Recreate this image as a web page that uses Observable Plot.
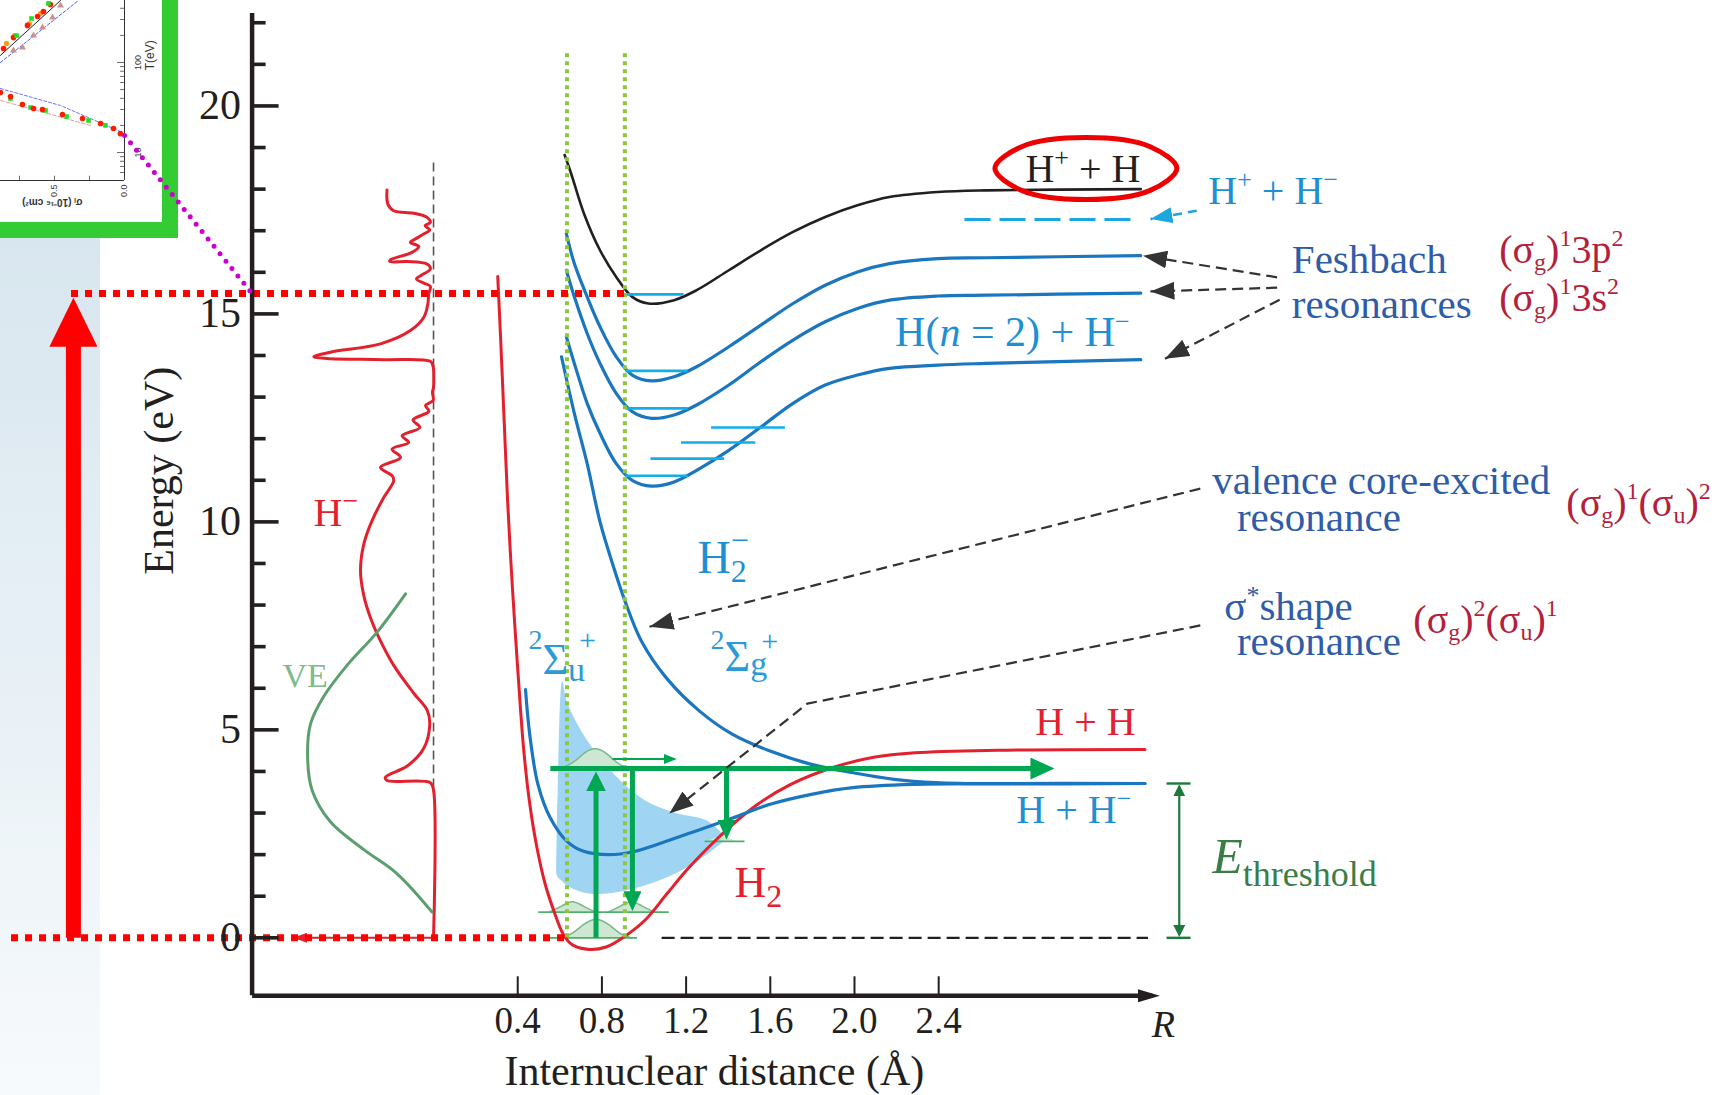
<!DOCTYPE html>
<html><head><meta charset="utf-8">
<script src="https://cdn.jsdelivr.net/npm/d3@7"></script>
<script src="https://cdn.jsdelivr.net/npm/@observablehq/plot@0.6"></script>
<style>
body{margin:0;background:#fff;}
#wrap{position:relative;width:1715px;height:1095px;overflow:hidden;background:#fff;}
#shade{position:absolute;left:0;top:238px;width:100px;height:857px;background:linear-gradient(to bottom,#d8e6ef 0%,#e6eff5 45%,#f7fafc 100%);}
#inset{position:absolute;left:0;top:0;width:162px;height:222px;border-right:16px solid #33cc33;border-bottom:16px solid #33cc33;background:#fff;overflow:hidden;}
#main{position:absolute;left:0;top:0;}
</style></head><body>
<div id="wrap"><div id="shade"></div><div id="inset"></div><div id="main"></div></div>
<script>
// ================= DATA (R in Å, E in eV) =================
// H2 ground state
const h2R = [0.305,0.318,0.335,0.352,0.368,0.385,0.405,0.427,0.455,0.49,0.53,0.575,0.615,0.66,0.742,0.82,0.91,1.008,1.106,1.205,1.303,1.402,1.540,1.697,1.894,2.091,2.288,2.681,3.380];
const h2E = [15.9,14.5,12.5,10.5,9.0,7.6,6.1,4.6,3.3,2.2,1.3,0.6,0.1,-0.17,-0.28,-0.22,0.04,0.44,1.04,1.64,2.16,2.64,3.21,3.69,4.09,4.34,4.45,4.51,4.53];
// H2- 2Σu+ (shape resonance)
const sigU_R = [0.437,0.457,0.496,0.555,0.634,0.713,0.831,0.949,1.106,1.264,1.421,1.599,1.795,1.992,2.288,2.681,3.38];
const sigU_E = [5.97,4.89,3.69,2.88,2.32,2.08,2.0,2.07,2.32,2.60,2.88,3.21,3.45,3.61,3.69,3.71,3.71];
// H2- 2Σg+ (valence core-excited)
const sigG_R = [0.608,0.669,0.730,0.791,0.85,0.910,0.988,1.106,1.264,1.421,1.599,1.795,1.992,2.189,2.386,2.681,3.38];
const sigG_E = [13.97,12.61,11.40,10.0,9.0,8.09,7.13,6.25,5.45,4.89,4.49,4.17,3.97,3.81,3.73,3.70,3.71];
// H2+ (H+ + H) black
const ionR = [0.623,0.654,0.715,0.791,0.868,0.944,1.021,1.143,1.250,1.403,1.555,1.708,1.861,2.014,2.166,2.396,2.625,3.36];
const ionE = [18.82,18.37,17.41,16.53,15.89,15.41,15.25,15.33,15.57,16.05,16.53,16.97,17.33,17.61,17.81,17.93,17.97,18.0];
// Feshbach resonance curves
const feshR = [0.631,0.669,0.730,0.791,0.868,0.944,1.036,1.143,1.250,1.403,1.555,1.708,1.861,2.014,2.166,2.396,2.625,3.36];
const fesh1E = [16.93,16.21,15.41,14.69,13.97,13.53,13.39,13.49,13.73,14.21,14.73,15.25,15.69,16.01,16.21,16.33,16.35,16.40];
const fesh2E = [16.05,15.41,14.53,13.81,13.09,12.65,12.49,12.57,12.81,13.29,13.85,14.37,14.81,15.13,15.33,15.43,15.45,15.50];
const fesh3E = [14.45,13.81,12.85,12.13,11.40,11.00,10.86,10.96,11.24,11.72,12.28,12.85,13.29,13.53,13.69,13.77,13.81,13.90];
// vibrational levels (R start, R end, E)
const vibR1 = [0.909,0.914,0.914,0.914,1.033,1.178,1.321];
const vibR2 = [1.19,1.21,1.21,1.21,1.383,1.531,1.672];
const vibE  = [15.47,13.63,12.73,11.11,11.52,11.91,12.27];
// H- yield spectrum (horizontal signal plotted to the left of R = 0)
const hmS = [-0.221,-0.217,-0.189,-0.094,-0.031,-0.015,-0.040,-0.018,-0.047,-0.087,-0.110,-0.070,-0.102,-0.205,-0.208,-0.125,-0.031,-0.015,-0.054,-0.081,-0.046,-0.015,-0.023,-0.027,-0.046,-0.110,-0.252,-0.490,-0.569,-0.506,-0.236,-0.015,-0.003,0.0,-0.005,-0.002,-0.038,-0.022,-0.097,-0.065,-0.149,-0.118,-0.197,-0.157,-0.252,-0.197,-0.189,-0.236,-0.292,-0.331,-0.347,-0.331,-0.300,-0.268,-0.189,-0.094,-0.030,-0.018,-0.047,-0.125,-0.229,-0.221,-0.015,0.0,0.0];
const hmE = [17.98,17.64,17.48,17.42,17.32,17.20,17.12,17.02,16.92,16.80,16.72,16.62,16.48,16.30,16.26,16.26,16.20,16.08,15.94,15.84,15.74,15.66,15.48,15.24,14.92,14.60,14.28,14.08,13.97,13.93,13.90,13.86,13.76,13.24,13.12,12.92,12.80,12.66,12.45,12.27,12.07,11.91,11.75,11.55,11.31,11.11,10.99,10.59,10.03,9.47,8.83,8.22,7.70,7.31,6.55,5.88,5.47,5.13,4.55,4.13,3.86,3.78,3.73,3.55,0.0];
// vibrational excitation (VE) cross section
const veS = [-0.133,-0.268,-0.411,-0.522,-0.585,-0.598,-0.577,-0.490,-0.331,-0.173,-0.007];
const veE = [8.27,7.35,6.55,5.80,5.13,4.30,3.55,2.79,2.12,1.54,0.62];
// resonance width band (light blue)
const bandR  = [0.585,0.592,0.614,0.634,0.713,0.791,0.890,1.008,1.146,1.303,1.382];
const bandLo = [1.55,1.45,1.35,1.25,1.08,1.04,1.10,1.25,1.52,2.00,2.32];
const bandHi = [1.60,3.50,6.17,5.69,4.89,4.33,3.77,3.29,3.00,2.80,2.45];
// nuclear wave packets
const wp0R = [0.60,0.66,0.71,0.772,0.835,0.885,0.94];
const wp0E = [0,0.08,0.33,0.50,0.33,0.08,0];
const wp1aR = [0.55,0.61,0.66,0.71,0.77];
const wp1bR = [0.83,0.89,0.94,0.99,1.05];
const wp1E  = [0.62,0.76,0.92,0.76,0.62];
const wpXR = [0.605,0.67,0.72,0.768,0.815,0.865,0.92];
const wpXE = [4.07,4.22,4.48,4.58,4.48,4.22,4.07];
const wpSR = [1.30,1.34,1.37,1.40,1.44];
const wpSE = [2.32,2.40,2.45,2.40,2.32];
// asymptotes / thresholds (eV)
const eHH = 4.53, eHHm = 3.71, eHpHm = 17.27, eIon = 15.49;
// axis ticks
const yMajor = [0,5,10,15,20];
const yMajorLabels = ["0","5","10","15","20"];
const yMinor = [1,2,3,4,6,7,8,9,11,12,13,14,16,17,18,19,21,22];
const xTicks = [0.4,0.8,1.2,1.6,2.0,2.4];
const xTickLabels = ["0.4","0.8","1.2","1.6","2.0","2.4"];
// Franck–Condon region (green dotted)
const fcR = [0.634,0.909];
// ellipse around H+ + H label
const ellR = [3.532,3.405,3.100,2.794,2.667,2.794,3.100,3.405];
const ellE = [18.50,19.02,19.24,19.02,18.50,17.97,17.75,17.97];

// inset (cross-section σ in 1e-16 cm^2 vs T in eV, rotated panel)
const insUpRed = [[0.864,143],[0.793,189],[0.693,258],[0.621,324],[0.579,368],[0.529,441]];
const insUpGreen = [[0.771,199],[0.664,308],[0.543,453]];
const insUpOrange = [[0.843,163],[0.786,199],[0.679,271],[0.600,350]];
const insUpBrown = [[0.793,136],[0.729,147],[0.650,199],[0.586,245],[0.514,316],[0.457,430]];
const insLoRed = [[0.886,46.4],[0.814,41.9],[0.729,34.1],[0.650,30.8],[0.586,30.0],[0.443,26.4],[0.300,23.9],[0.171,21.0],[0.079,18.5],[0.029,16.2]];
const insLoGreen = [[0.814,39.8],[0.671,31.6],[0.564,29.3],[0.414,25.1],[0.257,22.7],[0.136,20.0]];
const insUpBlack = [[0.886,120],[0.457,488]];
const insUpBlue = [[0.886,100],[0.329,488]];
const insLoBlue = [[0.886,51.4],[0.457,33.3],[0.014,16.7]];
const insLoPink = [[0.886,37.9],[0.243,20.0]];
const insTMinor = [6,7,8,9,20,30,40,50,60,70,80,90,200,300,400];
const insTMajor = [10,100];
const insSig = [0,0.25,0.5,0.75];

// ================= LAYOUT =================
const SERIF = '"Liberation Serif","Times New Roman",serif';
const W = 1715, H = 1095, ML = 251.6, MR = 555.6, MT = 13.1, MB = 99.7;
const X0 = -0.862, X1 = 3.451, Y0 = -1.394, Y1 = 22.22;
const PXR = (W - ML - MR) / (X1 - X0);
const PXE = (H - MT - MB) / (Y1 - Y0);

const INK = "#231f20", BLUE = "#1a76bf", CYAN = "#13aee8", RED = "#e3202d", GREEN = "#00a651";
const LBLUE = "#1f8fd4", NAVY = "#2f5ca8", DRED = "#b41f3c";

const zip = (xs, ys) => xs.map((x, i) => ({x, y: ys[i]}));

// text helper: rich text built from parts (sub/superscripts)
const ctx = document.createElement("canvas").getContext("2d");
function tw(t, size, style) { ctx.font = `${style || "normal"} ${size}px ${SERIF}`; return ctx.measureText(t).width; }
function rich(x, y, parts, fill, base = 40) {
  let off = 0; const out = [];
  for (const p of parts) {
    const size = p.size || base;
    off += p.shift || 0;
    out.push(Plot.text([0], {x, y, text: () => p.t, dx: off, dy: p.dy || 0, fontSize: size,
      fontStyle: p.style || "normal", fill, fontFamily: SERIF, textAnchor: "start", lineAnchor: "bottom"}));
    if (!p.back) off += tw(p.t, size, p.style);
  }
  return out;
}

// arrows (heads added as SVG markers after render)
let arrowN = 0; const arrowSpecs = {};
function arrow(pts, {stroke, sw, len, wid, dash, start = false, end = true}) {
  const id = "arrow" + (arrowN++);
  arrowSpecs[id] = {stroke, sw, len, wid, start, end, dash: !!dash};
  return Plot.line(pts, {x: d => d[0], y: d => d[1], stroke, strokeWidth: sw, strokeDasharray: dash,
    strokeLinecap: "butt", strokeLinejoin: "miter", ariaDescription: id});
}

const NB = "\u00a0", MINUS = "\u2212";
const sup = (t, size = 26, dy = -16) => ({t, size, dy});
const sub = (t, size = 24, dy = 7) => ({t, size, dy});

const marks = [
  // resonance width band
  Plot.areaY(bandR.map((x, i) => ({x, lo: bandLo[i], hi: bandHi[i]})), {x: "x", y1: "lo", y2: "hi", fill: "#9fd5f3", curve: "catmull-rom"}),
  // wave packets
  Plot.areaY(zip(wp0R, wp0E), {x: "x", y1: 0, y2: "y", fill: "#cde7d2", curve: "basis"}),
  Plot.line(zip(wp0R, wp0E), {x: "x", y: "y", stroke: "#7ab98a", strokeWidth: 1.5, curve: "basis"}),
  Plot.areaY(zip(wp1aR, wp1E), {x: "x", y1: 0.62, y2: "y", fill: "#cde7d2", curve: "basis"}),
  Plot.line(zip(wp1aR, wp1E), {x: "x", y: "y", stroke: "#7ab98a", strokeWidth: 1.5, curve: "basis"}),
  Plot.areaY(zip(wp1bR, wp1E), {x: "x", y1: 0.62, y2: "y", fill: "#cde7d2", curve: "basis"}),
  Plot.line(zip(wp1bR, wp1E), {x: "x", y: "y", stroke: "#7ab98a", strokeWidth: 1.5, curve: "basis"}),
  Plot.areaY(zip(wpXR, wpXE), {x: "x", y1: 4.07, y2: "y", fill: "#cde7d2", curve: "basis"}),
  Plot.line(zip(wpXR, wpXE), {x: "x", y: "y", stroke: "#7ab98a", strokeWidth: 1.5, curve: "basis"}),
  Plot.areaY(zip(wpSR, wpSE), {x: "x", y1: 2.32, y2: "y", fill: "#cde7d2", curve: "basis"}),
  Plot.ruleY([0], {x1: 0.555, x2: 0.969, stroke: "#4db06a", strokeWidth: 1.8}),
  Plot.ruleY([0.62], {x1: 0.50, x2: 1.12, stroke: "#4db06a", strokeWidth: 1.8}),
  Plot.ruleY([2.32], {x1: 1.29, x2: 1.48, stroke: "#4db06a", strokeWidth: 1.8}),
  // reference lines
  Plot.ruleX([0], {y1: 3.6, y2: 18.72, stroke: "#555", strokeWidth: 1.6, strokeDasharray: "9 5"}),
  Plot.ruleY([0], {x1: 1.086, x2: 3.397, stroke: INK, strokeWidth: 2.2, strokeDasharray: "13 6"}),
  // H- spectrum & VE
  arrow([[0, 0], [-0.668, 0]], {stroke: RED, sw: 2, len: 14, wid: 10}),
  Plot.line(zip(hmS, hmE), {x: "x", y: "y", stroke: RED, strokeWidth: 3, curve: "catmull-rom"}),
  Plot.line(zip(veS, veE), {x: "x", y: "y", stroke: "#5b9f6e", strokeWidth: 3, curve: "catmull-rom"}),
  // potential curves
  Plot.line(zip(h2R, h2E), {x: "x", y: "y", stroke: RED, strokeWidth: 3, curve: "catmull-rom"}),
  Plot.line(zip(sigU_R, sigU_E), {x: "x", y: "y", stroke: BLUE, strokeWidth: 3.2, curve: "catmull-rom"}),
  Plot.line(zip(sigG_R, sigG_E), {x: "x", y: "y", stroke: BLUE, strokeWidth: 3.2, curve: "catmull-rom"}),
  Plot.line(zip(feshR, fesh3E), {x: "x", y: "y", stroke: BLUE, strokeWidth: 3.2, curve: "catmull-rom"}),
  Plot.line(zip(feshR, fesh2E), {x: "x", y: "y", stroke: BLUE, strokeWidth: 3.2, curve: "catmull-rom"}),
  Plot.line(zip(feshR, fesh1E), {x: "x", y: "y", stroke: BLUE, strokeWidth: 3.2, curve: "catmull-rom"}),
  Plot.line(zip(ionR, ionE), {x: "x", y: "y", stroke: INK, strokeWidth: 2.6, curve: "catmull-rom"}),
  Plot.ruleY(vibE.map((e, i) => ({e, a: vibR1[i], b: vibR2[i]})), {y: "e", x1: "a", x2: "b", stroke: CYAN, strokeWidth: 2.6}),
  Plot.ruleY([eHpHm], {x1: 2.525, x2: 3.325, stroke: "#1ba6e0", strokeWidth: 3, strokeDasharray: "26 9"}),
  // Franck-Condon region
  Plot.ruleX(fcR, {x: d => d, y1: 0, y2: 21.27, stroke: "#8cc63f", strokeWidth: 4, strokeDasharray: "4 4"}),
  // transitions
  arrow([[0.772, 0], [0.772, 4.0]], {stroke: GREEN, sw: 5, len: 20, wid: 20}),
  arrow([[0.555, 4.07], [2.95, 4.07]], {stroke: GREEN, sw: 5, len: 24, wid: 22}),
  arrow([[0.945, 4.07], [0.945, 0.64]], {stroke: GREEN, sw: 5, len: 20, wid: 18}),
  arrow([[1.392, 4.07], [1.392, 2.36]], {stroke: GREEN, sw: 5, len: 20, wid: 18}),
  arrow([[0.85, 4.30], [1.156, 4.30]], {stroke: GREEN, sw: 2, len: 13, wid: 10}),
  // threshold
  arrow([[3.543, 0.02], [3.543, 3.69]], {stroke: "#1d7a3d", sw: 2.2, len: 12, wid: 12, start: true}),
  Plot.ruleY([0, eHHm], {x1: 3.485, x2: 3.599, stroke: "#1d7a3d", strokeWidth: 2.4}),
  // ionisation energy markers
  Plot.ruleY([eIon], {x1: -1.72, x2: 0.909, stroke: "#ff0000", strokeWidth: 7, strokeDasharray: "7 7"}),
  Plot.ruleY([0], {x1: -2.005, x2: 0.634, stroke: "#ff0000", strokeWidth: 7, strokeDasharray: "7 7"}),
  arrow([[-1.711, 0.0], [-1.711, 15.39]], {stroke: "#ff0000", sw: 15, len: 49, wid: 48}),
  // annotation arrows
  arrow([[4.008, 15.88], [3.371, 16.40]], {stroke: "#333", sw: 2.2, len: 24, wid: 18, dash: "11 6"}),
  arrow([[4.008, 15.63], [3.406, 15.54]], {stroke: "#333", sw: 2.2, len: 24, wid: 18, dash: "11 6"}),
  arrow([[4.020, 15.34], [3.475, 13.92]], {stroke: "#333", sw: 2.2, len: 24, wid: 18, dash: "11 6"}),
  arrow([[3.643, 10.80], [1.026, 7.48]], {stroke: "#333", sw: 2.2, len: 24, wid: 18, dash: "11 6"}),
  arrow([[3.643, 7.51], [1.776, 5.63], [1.120, 2.99]], {stroke: "#333", sw: 2.2, len: 24, wid: 18, dash: "11 6"}),
  arrow([[3.626, 17.48], [3.406, 17.28]], {stroke: "#1ba6e0", sw: 2.5, len: 22, wid: 16, dash: "9 6"}),
  // axes
  Plot.ruleX([X0], {y1: Y0, y2: Y1, stroke: INK, strokeWidth: 4.5}),
  Plot.ruleY(yMajor, {y: d => d, x1: X0, x2: X0 + 27 / PXR, stroke: INK, strokeWidth: 3.6}),
  Plot.ruleY(yMinor, {y: d => d, x1: X0, x2: X0 + 14 / PXR, stroke: INK, strokeWidth: 3.6}),
  arrow([[X0, Y0], [X1, Y0]], {stroke: INK, sw: 4.5, len: 22, wid: 13}),
  Plot.ruleX(xTicks, {x: d => d, y1: Y0, y2: Y0 + 19 / PXE, stroke: INK, strokeWidth: 2}),
  Plot.text(yMajor, {x: X0, y: d => d, text: (d, i) => yMajorLabels[i], dx: -11, textAnchor: "end", lineAnchor: "middle", fontSize: 42, fontFamily: SERIF, fill: INK}),
  Plot.text(xTicks, {x: d => d, y: -2.30, text: (d, i) => xTickLabels[i], textAnchor: "middle", lineAnchor: "bottom", fontSize: 37, fontFamily: SERIF, fill: INK}),
  Plot.text([0], {x: -1.304, y: 11.23, text: () => "Energy (eV)", rotate: -90, textAnchor: "middle", lineAnchor: "middle", fontSize: 42, fontFamily: SERIF, fill: INK}),
  Plot.text([0], {x: 1.334, y: -3.53, text: () => "Internuclear distance (Å)", textAnchor: "middle", lineAnchor: "bottom", fontSize: 42, fontFamily: SERIF, fill: INK}),
  Plot.text([0], {x: 3.468, y: -2.38, text: () => "R", textAnchor: "middle", lineAnchor: "bottom", fontSize: 38, fontStyle: "italic", fontFamily: SERIF, fill: INK}),
  // labels
  ...rich(2.812, 18.16, [{t: "H"}, sup("+"), {t: NB + "+" + NB + "H"}], INK),
  ...rich(3.681, 17.65, [{t: "H"}, sup("+"), {t: NB + "+" + NB + "H"}, sup(MINUS)], LBLUE),
  ...rich(4.078, 15.99, [{t: "Feshbach"}], NAVY, 41),
  ...rich(4.078, 14.89, [{t: "resonances"}], NAVY, 41),
  ...rich(5.063, 16.23, [{t: "(σ"}, sub("g"), {t: ")"}, sup("1", 24, -17), {t: "3p"}, sup("2", 24, -17)], DRED),
  ...rich(5.063, 15.08, [{t: "(σ"}, sub("g"), {t: ")"}, sup("1", 24, -17), {t: "3s"}, sup("2", 24, -17)], DRED),
  ...rich(2.193, 14.24, [{t: "H("}, {t: "n", style: "italic"}, {t: NB + "=" + NB + "2)" + NB + "+" + NB + "H"}, sup(MINUS)], LBLUE, 42),
  ...rich(3.700, 10.68, [{t: "valence core-excited"}], NAVY, 41),
  ...rich(3.817, 9.79, [{t: "resonance"}], NAVY, 41),
  ...rich(5.382, 10.13, [{t: "(σ"}, sub("g"), {t: ")"}, sup("1", 24, -17), {t: "(σ"}, sub("u"), {t: ")"}, sup("2", 24, -17)], DRED),
  ...rich(3.757, 7.63, [{t: "σ"}, sup("*"), {t: "shape"}], NAVY, 41),
  ...rich(3.817, 6.79, [{t: "resonance"}], NAVY, 41),
  ...rich(4.655, 7.34, [{t: "(σ"}, sub("g"), {t: ")"}, sup("2", 24, -17), {t: "(σ"}, sub("u"), {t: ")"}, sup("1", 24, -17)], DRED),
  ...rich(1.254, 8.78, [{t: "H", size: 46}, {t: "2", size: 32, dy: 9, back: true}, {t: MINUS, size: 32, dy: -22}], LBLUE),
  ...rich(0.451, 6.35, [{t: "2", size: 28, dy: -25}, {t: "Σ", size: 44}, {t: "u", size: 34, dy: 7, back: true}, {t: "+", size: 30, dy: -24, shift: 11}], "#2a9ad8"),
  ...rich(1.316, 6.42, [{t: "2", size: 28, dy: -22}, {t: "Σ", size: 44}, {t: "g", size: 34, dy: 4, back: true}, {t: "+", size: 30, dy: -20, shift: 11}], "#2a9ad8"),
  ...rich(1.430, 0.97, [{t: "H", size: 44}, {t: "2", size: 32, dy: 10}], RED),
  ...rich(2.859, 4.87, [{t: "H" + NB + "+" + NB + "H"}], RED),
  ...rich(2.769, 2.75, [{t: "H" + NB + "+" + NB + "H"}, sup(MINUS)], LBLUE),
  ...rich(-0.570, 9.89, [{t: "H"}, sup(MINUS, 28, -16)], RED),
  ...rich(-0.718, 6.04, [{t: "VE"}], "#7fb98c", 34),
  ...rich(3.700, 1.55, [{t: "E", size: 50, style: "italic"}, {t: "threshold", size: 36, dy: 13}], "#3a7d46"),
  // highlight ellipse and link to inset
  Plot.line(zip(ellR, ellE), {x: "x", y: "y", stroke: "#ee0000", strokeWidth: 5, curve: "catmull-rom-closed"}),
  Plot.line([[-1.468, 19.29], [-0.862, 15.49]], {x: d => d[0], y: d => d[1], stroke: "#cc00cc", strokeWidth: 5, strokeDasharray: "0 9.5", strokeLinecap: "round"})
];

const svg = Plot.plot({
  width: W, height: H, marginLeft: ML, marginRight: MR, marginTop: MT, marginBottom: MB,
  x: {domain: [X0, X1], axis: null}, y: {domain: [Y0, Y1], axis: null},
  marks
});
svg.style.background = "transparent";
svg.style.overflow = "visible";
document.getElementById("main").appendChild(svg);

function decorateArrows(svg) {
  const ns = "http://www.w3.org/2000/svg";
  const defs = document.createElementNS(ns, "defs");
  svg.insertBefore(defs, svg.firstChild);
  for (const [id, s] of Object.entries(arrowSpecs)) {
    const m = document.createElementNS(ns, "marker");
    m.setAttribute("id", "mk-" + id);
    m.setAttribute("markerUnits", "userSpaceOnUse");
    m.setAttribute("markerWidth", s.len); m.setAttribute("markerHeight", s.wid);
    m.setAttribute("viewBox", `0 0 ${s.len} ${s.wid}`);
    m.setAttribute("refX", s.len); m.setAttribute("refY", s.wid / 2);
    m.setAttribute("orient", "auto-start-reverse");
    const p = document.createElementNS(ns, "path");
    p.setAttribute("d", `M0,0L${s.len},${s.wid / 2}L0,${s.wid}Z`);
    p.setAttribute("fill", s.stroke); p.setAttribute("stroke", "none");
    m.appendChild(p); defs.appendChild(m);
    svg.querySelectorAll(`g[aria-description="${id}"] path`).forEach(path => {
      if (s.end) path.setAttribute("marker-end", `url(#mk-${id})`);
      if (s.start) path.setAttribute("marker-start", `url(#mk-${id})`);
      if (!s.dash) {
        const L = path.getTotalLength(); const ext = s.sw * s.len / s.wid;
        const a = s.start ? ext : 0, b = s.end ? ext : 0;
        path.setAttribute("stroke-dasharray", `0 ${a} ${Math.max(0, L - a - b)} ${b + 2}`);
      }
    });
  }
}
decorateArrows(svg);

// ================= INSET =================
const sigTop = 0.8857, tBot = 4.89, tTop = 488;
const inset = Plot.plot({
  width: 162, height: 222, marginLeft: 0, marginRight: 38, marginTop: 0, marginBottom: 42,
  x: {domain: [sigTop, 0], axis: null}, y: {type: "log", domain: [tBot, tTop], axis: null},
  marks: [
    Plot.line(insUpBlue, {x: d => d[0], y: d => d[1], stroke: "#4f5bff", strokeWidth: 1, strokeDasharray: "3 2"}),
    Plot.line(insUpBlack, {x: d => d[0], y: d => d[1], stroke: "#222", strokeWidth: 1}),
    Plot.line(insLoBlue, {x: d => d[0], y: d => d[1], stroke: "#6b74ff", strokeWidth: 1, strokeDasharray: "3 2"}),
    Plot.line(insLoPink, {x: d => d[0], y: d => d[1], stroke: "#d9a0a0", strokeWidth: 1, strokeDasharray: "4 2"}),
    Plot.dot(insUpBrown, {x: d => d[0], y: d => d[1], symbol: "triangle", r: 2.6, fill: "#c9928f"}),
    Plot.dot(insUpOrange, {x: d => d[0], y: d => d[1], r: 2.6, fill: "#ff9a1f"}),
    Plot.dot(insUpRed, {x: d => d[0], y: d => d[1], r: 2.8, fill: "#ff1a00"}),
    Plot.dot(insUpGreen, {x: d => d[0], y: d => d[1], symbol: "square", r: 2.6, fill: "#22dd22"}),
    Plot.dot(insLoGreen, {x: d => d[0], y: d => d[1], symbol: "square", r: 2.6, fill: "#22dd22"}),
    Plot.dot(insLoRed, {x: d => d[0], y: d => d[1], r: 2.8, fill: "#ff1a00"}),
    Plot.ruleX([0], {y1: tBot, y2: tTop, stroke: "#333", strokeWidth: 1}),
    Plot.ruleY([tBot], {x1: sigTop, x2: 0, stroke: "#333", strokeWidth: 1}),
    Plot.ruleY(insTMinor, {y: d => d, x1: 0, x2: 0.028, stroke: "#444", strokeWidth: 0.8}),
    Plot.ruleY(insTMajor, {y: d => d, x1: 0, x2: 0.05, stroke: "#444", strokeWidth: 0.8}),
    Plot.ruleX(insSig, {x: d => d, y1: tBot, y2: 5.45, stroke: "#444", strokeWidth: 0.8}),
    Plot.text(["0.0", "0.5"], {x: (d, i) => [0, 0.5][i], y: tBot, text: d => d, dy: 4, rotate: -90, textAnchor: "end", lineAnchor: "middle", fontSize: 9, fontFamily: "Liberation Sans", fill: "#333"}),
    Plot.text(["100", "10"], {x: -0.1, y: (d, i) => [100, 10][i], text: d => d, rotate: -90, textAnchor: "middle", lineAnchor: "middle", fontSize: 9, fontFamily: "Liberation Sans", fill: "#333"}),
    Plot.text(["T(eV)"], {x: -0.186, y: 120, text: d => d, rotate: -90, textAnchor: "middle", lineAnchor: "middle", fontSize: 12, fontFamily: "Liberation Sans", fill: "#333"}),
    Plot.text(["σᵢ (10⁻¹⁶ cm²)"], {x: 0.30, y: 2.78, text: d => d, rotate: 180, textAnchor: "start", lineAnchor: "middle", fontSize: 10, fontWeight: "bold", fontFamily: "Liberation Sans", fill: "#333"})
  ]
});
inset.style.background = "transparent";
document.getElementById("inset").appendChild(inset);
</script>
</body></html>
